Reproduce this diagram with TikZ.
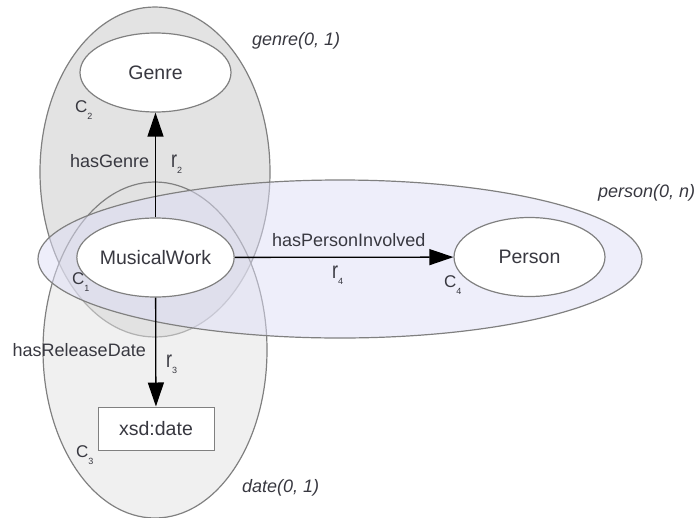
\documentclass[tikz,border=0pt]{standalone}
\usepackage{fontspec}
\setmainfont{Liberation Sans}
\usetikzlibrary{shapes.geometric,arrows.meta}
\definecolor{txt}{HTML}{383840}
\definecolor{outl}{HTML}{808080}
\definecolor{genrefill}{HTML}{C7C7C7}
\definecolor{datefill}{HTML}{E2E2E2}
\definecolor{personfill}{HTML}{DEDEF6}
\newcommand\subl[3]{#1\raisebox{-#3}{\fontsize{9}{9}\selectfont #2}}
\newcommand\rr{\scalebox{1}[1.3]{r}}
\tikzset{
  grp/.style={ellipse, draw=outl, line width=1.2pt, fill opacity=0.5, draw opacity=1, inner sep=0pt},
  cls/.style={ellipse, draw=outl, line width=1.2pt, fill=white, minimum width=151pt, minimum height=79pt, inner sep=0pt, text=txt, font=\fontsize{19.5}{23}\selectfont},
  lit/.style={rectangle, draw=outl, line width=1pt, fill=white, minimum width=116pt, minimum height=43pt, inner sep=0pt, text=txt, font=\fontsize{19.5}{23}\selectfont},
  elbl/.style={text=txt, font=\fontsize{18}{21}\selectfont, inner sep=0pt},
  clbl/.style={text=txt, font=\fontsize{17}{20}\selectfont, inner sep=0pt},
  glbl/.style={text=txt, font=\fontsize{18}{21}\selectfont\itshape, inner sep=0pt},
  rel/.style={draw=black, line width=1.3pt, -{Triangle[length=24pt,width=16pt]}},
}
\begin{document}
\begin{tikzpicture}[x=1pt,y=-1pt]
\useasboundingbox (0,0) rectangle (699,517);
% groups
\node[grp, fill=genrefill, minimum width=230pt, minimum height=330pt] (ggenre) at (155,172) {};
\node[grp, fill=datefill, minimum width=224pt, minimum height=336pt] (gdate) at (155,350) {};
\node[grp, fill=personfill, minimum width=604pt, minimum height=158pt] (gperson) at (340,259) {};
% classes
\node[cls] (genre) at (155.5,72.5) {Genre};
\node[cls] (mw) at (155.5,257.5) {MusicalWork};
\node[cls] (person) at (529.5,257) {Person};
\node[lit] (date) at (156,428.5) {xsd:date};
% relations
\draw[rel] (mw) -- (genre);
\draw[rel] (mw) -- (date);
\draw[rel] (mw) -- (person);
% labels
\node[elbl, anchor=base west] (lgenre) at (70,167) {hasGenre};
\node[elbl, anchor=base west] (r2) at (171,167) {\subl{\rr}{2}{6pt}};
\node[clbl, anchor=base west] (c2) at (75,112) {\subl{C}{2}{7pt}};
\node[elbl, anchor=base east] (ldate) at (146,356) {hasReleaseDate};
\node[elbl, anchor=base west] (r3) at (166,367) {\subl{\rr}{3}{6pt}};
\node[clbl, anchor=base west] (c1) at (72,284) {\subl{C}{1}{7pt}};
\node[clbl, anchor=base west] (c3) at (76,457) {\subl{C}{3}{7pt}};
\node[elbl, anchor=base west] (lperson) at (272,246) {hasPersonInvolved};
\node[elbl, anchor=base west] (r4) at (332,278) {\subl{\rr}{4}{6pt}};
\node[clbl, anchor=base west] (c4) at (444,287) {\subl{C}{4}{7pt}};
\node[glbl, anchor=base west] (tgenre) at (252,45) {genre(0, 1)};
\node[glbl, anchor=base west] (tdate) at (242,492) {date(0, 1)};
\node[glbl, anchor=base west] (tperson) at (598,197) {person(0, n)};
\end{tikzpicture}
\end{document}
